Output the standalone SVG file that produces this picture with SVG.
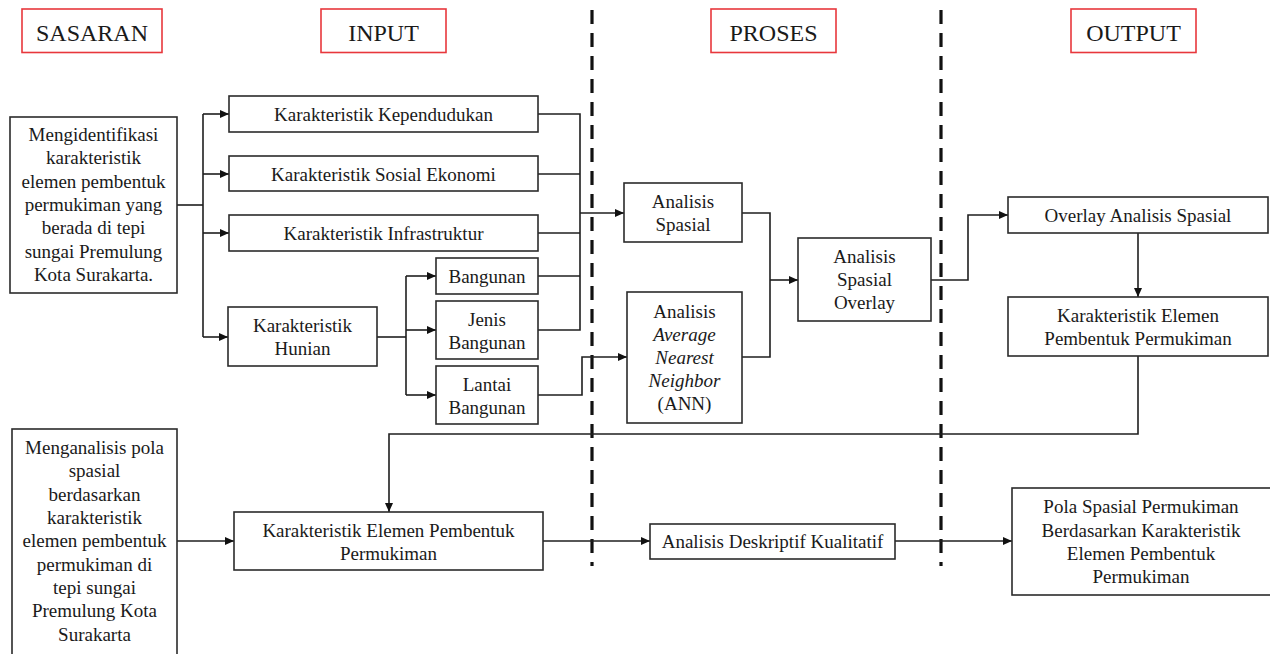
<svg xmlns="http://www.w3.org/2000/svg" width="1270" height="654" viewBox="0 0 1270 654">
<style>
.hdr{fill:#fff;stroke:#e8373c;stroke-width:1.6}
.box{fill:#fff;stroke:#2b2b2b;stroke-width:1.6}
.t{font-size:19px;fill:#1a1a1a;text-anchor:middle}
.h{font-size:24px;fill:#1a1a1a;text-anchor:middle}
.i{font-style:italic}
.c{fill:none;stroke:#1f1f1f;stroke-width:1.6}
.dash{fill:none;stroke:#111;stroke-width:3.2;stroke-dasharray:14 9}
</style>
<defs>
<marker id="ah" markerUnits="userSpaceOnUse" markerWidth="9" markerHeight="8" refX="9" refY="4" orient="auto">
<path d="M0,0 L9,4 L0,8 z" fill="#111"/>
</marker>
</defs>
<rect width="1270" height="654" fill="#fff"/>

<g id="dividers">
<line class="dash" x1="592" y1="10" x2="592" y2="566"/>
<line class="dash" x1="941" y1="10" x2="941" y2="566"/>
</g>

<g font-family="Liberation Serif, Tinos, DejaVu Serif, serif">
<g id="headers">
<g id="h-sasaran"><rect class="hdr" x="22" y="9" width="140" height="43.5"/><text class="h" x="92" y="40.5">SASARAN</text></g>
<g id="h-input"><rect class="hdr" x="321" y="9" width="125" height="43.5"/><text class="h" x="383.5" y="40.5">INPUT</text></g>
<g id="h-proses"><rect class="hdr" x="711" y="9" width="125" height="43.5"/><text class="h" x="773.5" y="40.5">PROSES</text></g>
<g id="h-output"><rect class="hdr" x="1071" y="9" width="125" height="43.5"/><text class="h" x="1133.5" y="40.5">OUTPUT</text></g>
</g>

<g id="connectors">
<polyline class="c" points="177,205 203,205"/>
<polyline class="c" points="203,114 203,337"/>
<line class="c" x1="203" y1="114" x2="229" y2="114" marker-end="url(#ah)"/>
<line class="c" x1="203" y1="174" x2="229" y2="174" marker-end="url(#ah)"/>
<line class="c" x1="203" y1="233" x2="229" y2="233" marker-end="url(#ah)"/>
<line class="c" x1="203" y1="337" x2="228" y2="337" marker-end="url(#ah)"/>
<polyline class="c" points="377,337 406,337"/>
<polyline class="c" points="406,276 406,395"/>
<line class="c" x1="406" y1="276" x2="436" y2="276" marker-end="url(#ah)"/>
<line class="c" x1="406" y1="330" x2="436" y2="330" marker-end="url(#ah)"/>
<line class="c" x1="406" y1="395" x2="436" y2="395" marker-end="url(#ah)"/>
<polyline class="c" points="538,114 580,114 580,330 538,330"/>
<line class="c" x1="538" y1="174" x2="580" y2="174"/>
<line class="c" x1="538" y1="233" x2="580" y2="233"/>
<line class="c" x1="538" y1="276" x2="580" y2="276"/>
<line class="c" x1="580" y1="213" x2="624" y2="213" marker-end="url(#ah)"/>
<polyline class="c" points="538,395 582,395 582,357 627,357" marker-end="url(#ah)"/>
<polyline class="c" points="742,213 770,213 770,357 742,357"/>
<line class="c" x1="770" y1="280" x2="798" y2="280" marker-end="url(#ah)"/>
<polyline class="c" points="931,280 968,280 968,215 1008,215" marker-end="url(#ah)"/>
<line class="c" x1="1138" y1="233" x2="1138" y2="297" marker-end="url(#ah)"/>
<polyline class="c" points="1138,356 1138,434 389,434 389,512" marker-end="url(#ah)"/>
<line class="c" x1="177" y1="541" x2="234" y2="541" marker-end="url(#ah)"/>
<line class="c" x1="543" y1="541" x2="650" y2="541" marker-end="url(#ah)"/>
<line class="c" x1="895" y1="541" x2="1012" y2="541" marker-end="url(#ah)"/>
</g>

<g id="sasaran-1"><rect class="box" x="10" y="117" width="167" height="176"/>
<text class="t"><tspan x="93.5" y="141">Mengidentifikasi</tspan><tspan x="93.5" y="164.3">karakteristik</tspan><tspan x="93.5" y="187.6">elemen pembentuk</tspan><tspan x="93.5" y="211">permukiman yang</tspan><tspan x="93.5" y="234.3">berada di tepi</tspan><tspan x="93.5" y="257.6">sungai Premulung</tspan><tspan x="93.5" y="281">Kota Surakarta.</tspan></text></g>

<g id="kependudukan"><rect class="box" x="229" y="96" width="309" height="36"/><text class="t" x="383.5" y="121">Karakteristik Kependudukan</text></g>
<g id="sosial-ekonomi"><rect class="box" x="229" y="156" width="309" height="35"/><text class="t" x="383.5" y="181">Karakteristik Sosial Ekonomi</text></g>
<g id="infrastruktur"><rect class="box" x="229" y="215" width="309" height="36"/><text class="t" x="383.5" y="240">Karakteristik Infrastruktur</text></g>
<g id="hunian"><rect class="box" x="228" y="307" width="149" height="59"/><text class="t"><tspan x="302.5" y="332">Karakteristik</tspan><tspan x="302.5" y="355">Hunian</tspan></text></g>
<g id="bangunan"><rect class="box" x="436" y="258" width="102" height="36"/><text class="t" x="487" y="283">Bangunan</text></g>
<g id="jenis-bangunan"><rect class="box" x="436" y="301" width="102" height="58"/><text class="t"><tspan x="487" y="326">Jenis</tspan><tspan x="487" y="349">Bangunan</tspan></text></g>
<g id="lantai-bangunan"><rect class="box" x="436" y="366" width="102" height="58"/><text class="t"><tspan x="487" y="391">Lantai</tspan><tspan x="487" y="414">Bangunan</tspan></text></g>

<g id="analisis-spasial"><rect class="box" x="624" y="183" width="118" height="59"/><text class="t"><tspan x="683" y="208">Analisis</tspan><tspan x="683" y="231">Spasial</tspan></text></g>
<g id="ann"><rect class="box" x="627" y="292" width="115" height="131"/><text class="t"><tspan x="684.5" y="318">Analisis</tspan><tspan class="i" x="684.5" y="341">Average</tspan><tspan class="i" x="684.5" y="364">Nearest</tspan><tspan class="i" x="684.5" y="387">Neighbor</tspan><tspan x="684.5" y="410">(ANN)</tspan></text></g>
<g id="spasial-overlay"><rect class="box" x="798" y="238" width="133" height="83"/><text class="t"><tspan x="864.5" y="263">Analisis</tspan><tspan x="864.5" y="286">Spasial</tspan><tspan x="864.5" y="309">Overlay</tspan></text></g>

<g id="overlay-analisis"><rect class="box" x="1008" y="197" width="260" height="36"/><text class="t" x="1138" y="222">Overlay Analisis Spasial</text></g>
<g id="elemen-output"><rect class="box" x="1008" y="297" width="260" height="59"/><text class="t"><tspan x="1138" y="322">Karakteristik Elemen</tspan><tspan x="1138" y="345">Pembentuk Permukiman</tspan></text></g>

<g id="sasaran-2"><rect class="box" x="12" y="429" width="165" height="230"/>
<text class="t"><tspan x="94.5" y="454">Menganalisis pola</tspan><tspan x="94.5" y="477">spasial</tspan><tspan x="94.5" y="501">berdasarkan</tspan><tspan x="94.5" y="524">karakteristik</tspan><tspan x="94.5" y="547">elemen pembentuk</tspan><tspan x="94.5" y="571">permukiman di</tspan><tspan x="94.5" y="594">tepi sungai</tspan><tspan x="94.5" y="617">Premulung Kota</tspan><tspan x="94.5" y="641">Surakarta</tspan></text></g>

<g id="elemen-input"><rect class="box" x="234" y="512" width="309" height="58"/><text class="t"><tspan x="388.5" y="537">Karakteristik Elemen Pembentuk</tspan><tspan x="388.5" y="560">Permukiman</tspan></text></g>
<g id="deskriptif"><rect class="box" x="650" y="524" width="245" height="35"/><text class="t" x="772.5" y="548">Analisis Deskriptif Kualitatif</text></g>
<g id="pola-spasial"><rect class="box" x="1012" y="488" width="262" height="107"/><text class="t"><tspan x="1141" y="513">Pola Spasial Permukiman</tspan><tspan x="1141" y="537">Berdasarkan Karakteristik</tspan><tspan x="1141" y="560">Elemen Pembentuk</tspan><tspan x="1141" y="583">Permukiman</tspan></text></g>
</g>
</svg>
